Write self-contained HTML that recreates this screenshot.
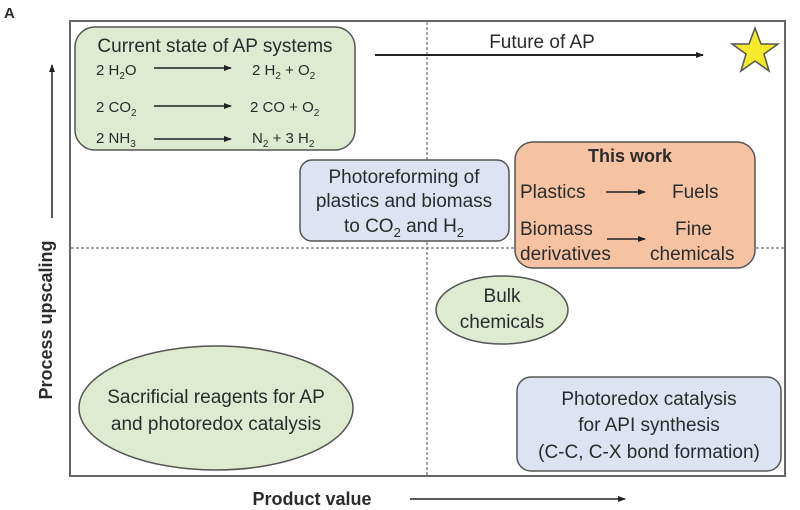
<!DOCTYPE html>
<html><head><meta charset="utf-8"><style>
html,body{margin:0;padding:0;background:#fff;width:800px;height:510px;overflow:hidden}
svg text{font-family:"Liberation Sans",sans-serif;fill:#2b2b2b}
</style></head><body>
<svg width="800" height="510" viewBox="0 0 800 510" xmlns="http://www.w3.org/2000/svg">
<defs><marker id="a" markerWidth="8" markerHeight="6" refX="7" refY="3" orient="auto" markerUnits="userSpaceOnUse"><path d="M0,0 L8,3 L0,6z" fill="#222"/></marker></defs>
<text x="4" y="18" font-size="15" font-weight="bold">A</text>
<rect x="70" y="21" width="715" height="455" fill="none" stroke="#666" stroke-width="2"/>
<line x1="427" y1="22" x2="427" y2="475" stroke="#888" stroke-width="1.5" stroke-dasharray="3,2"/>
<line x1="71" y1="248" x2="784" y2="248" stroke="#888" stroke-width="1.5" stroke-dasharray="3,2"/>
<!-- current state -->
<rect x="75" y="27" width="280" height="123" rx="20" fill="#dfebd0" stroke="#555" stroke-width="1.5"/>
<text x="215" y="52" font-size="19" text-anchor="middle">Current state of AP systems</text>
<g font-size="15">
<text x="96" y="75">2 H<tspan font-size="10" dy="4">2</tspan><tspan dy="-4">O</tspan></text>
<text x="252" y="75">2 H<tspan font-size="10" dy="4">2</tspan><tspan dy="-4"> + O</tspan><tspan font-size="10" dy="4">2</tspan></text>
<text x="96" y="112">2 CO<tspan font-size="10" dy="4">2</tspan></text>
<text x="250" y="112">2 CO + O<tspan font-size="10" dy="4">2</tspan></text>
<text x="96" y="143">2 NH<tspan font-size="10" dy="4">3</tspan></text>
<text x="252" y="143">N<tspan font-size="10" dy="4">2</tspan><tspan dy="-4"> + 3 H</tspan><tspan font-size="10" dy="4">2</tspan></text>
</g>
<g stroke="#222" stroke-width="1.5" marker-end="url(#a)">
<line x1="154" y1="68" x2="231" y2="68"/>
<line x1="154" y1="106" x2="231" y2="106"/>
<line x1="154" y1="139" x2="231" y2="139"/>
<line x1="375" y1="55" x2="703" y2="55" stroke-width="2"/>
<line x1="52" y1="218" x2="52" y2="65"/>
<line x1="410" y1="499" x2="625" y2="499"/>
</g>
<text x="542" y="48" font-size="19" text-anchor="middle">Future of AP</text>
<polygon points="755,28 761,44 778,44 764,54 769,71 755,61 741,71 746,54 732,44 749,44" fill="#f4e92a" stroke="#555" stroke-width="1.5"/>
<!-- photoreforming -->
<rect x="300" y="160" width="209" height="81" rx="12" fill="#dde3f3" stroke="#555" stroke-width="1.5"/>
<g font-size="19" text-anchor="middle">
<text x="404" y="183">Photoreforming of</text>
<text x="404" y="207">plastics and biomass</text>
<text x="404" y="232">to CO<tspan font-size="13" dy="5">2</tspan><tspan dy="-5"> and H</tspan><tspan font-size="13" dy="5">2</tspan></text>
</g>
<!-- this work -->
<rect x="515" y="142" width="240" height="126" rx="18" fill="#f6c3a2" stroke="#555" stroke-width="1.5"/>
<text x="630" y="162" font-size="18" font-weight="bold" text-anchor="middle">This work</text>
<g font-size="19">
<text x="520" y="198">Plastics</text>
<text x="672" y="198">Fuels</text>
<text x="520" y="235">Biomass</text>
<text x="675" y="235">Fine</text>
<text x="520" y="260">derivatives</text>
<text x="650" y="260">chemicals</text>
</g>
<g stroke="#222" stroke-width="1.5" marker-end="url(#a)">
<line x1="606" y1="192" x2="645" y2="192"/>
<line x1="607" y1="239" x2="645" y2="239"/>
</g>
<!-- bulk -->
<ellipse cx="502" cy="310" rx="66" ry="34" fill="#dfebd0" stroke="#555" stroke-width="1.5"/>
<text x="502" y="302" font-size="19" text-anchor="middle">Bulk</text>
<text x="502" y="328" font-size="19" text-anchor="middle">chemicals</text>
<!-- sacrificial -->
<ellipse cx="216" cy="408" rx="137" ry="62" fill="#dfebd0" stroke="#555" stroke-width="1.5"/>
<text x="216" y="403" font-size="19" text-anchor="middle">Sacrificial reagents for AP</text>
<text x="216" y="430" font-size="19" text-anchor="middle">and photoredox catalysis</text>
<!-- photoredox -->
<rect x="517" y="377" width="264" height="94" rx="14" fill="#dde3f3" stroke="#555" stroke-width="1.5"/>
<g font-size="19" text-anchor="middle">
<text x="649" y="405">Photoredox catalysis</text>
<text x="649" y="431">for API synthesis</text>
<text x="649" y="458">(C-C, C-X bond formation)</text>
</g>
<text x="312" y="505" font-size="18" font-weight="bold" text-anchor="middle">Product value</text>
<text transform="translate(52,320) rotate(-90)" font-size="18" font-weight="bold" text-anchor="middle">Process upscaling</text>
</svg>
</body></html>
